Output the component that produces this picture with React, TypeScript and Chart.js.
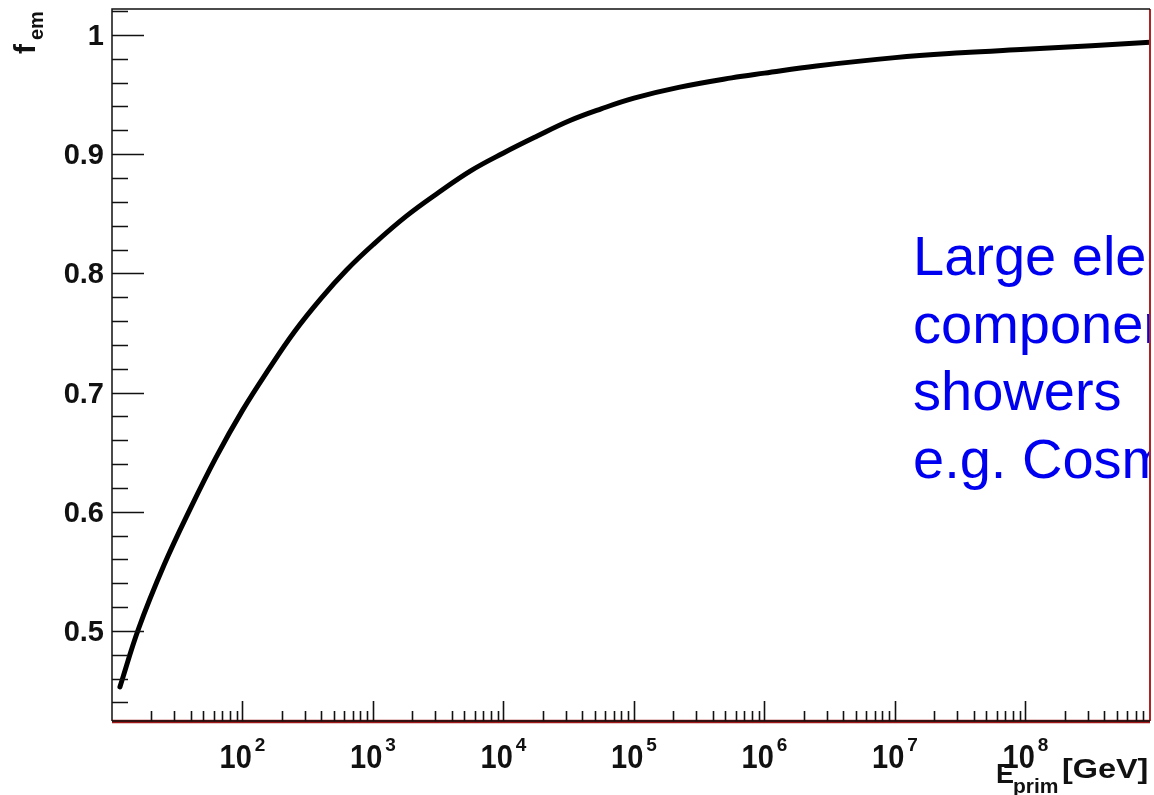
import { useEffect, useRef } from "react";
import { Chart, registerables } from "chart.js";

Chart.register(...registerables);

// Primary energy in GeV and the electromagnetic fraction of the shower
const energies = [
  11.5, 16, 25, 40, 63, 100, 160, 250, 400, 630, 1000, 1800, 3200, 5600, 1e4,
  1.8e4, 3.2e4, 5.6e4, 1e5, 2.2e5, 5.6e5, 1e6, 2.5e6, 1e7, 3.2e7, 1e8, 3.2e8, 9e8,
];
const emFraction = [
  0.453, 0.502, 0.555, 0.603, 0.646, 0.685, 0.72, 0.751, 0.779, 0.803, 0.824,
  0.848, 0.868, 0.886, 0.901, 0.915, 0.928, 0.938, 0.947, 0.956, 0.964, 0.968,
  0.974, 0.981, 0.985, 0.988, 0.991, 0.994,
];

const yMajorTicks = [0.5, 0.6, 0.7, 0.8, 0.9, 1];
const yTickLabels = ["0.5", "0.6", "0.7", "0.8", "0.9", "1"];
const xDecades = [2, 3, 4, 5, 6, 7, 8];
const noteLines = ["Large electromagnetic", "component in", "showers", "e.g. Cosmic rays"];

const X_MIN = 10;
const X_MAX = 9e8;
const Y_MIN = 0.4244;
const Y_MAX = 1.0218;

const FONT = '"Liberation Sans", Arial, sans-serif';

const frameAxes = {
  id: "frameAxes",
  afterDraw(chart: any) {
    const { ctx, chartArea } = chart;
    const xs = chart.scales.x;
    const ys = chart.scales.y;
    const { left, right, top, bottom } = chartArea;

    ctx.save();
    // frame
    ctx.lineCap = "butt";
    ctx.strokeStyle = "#b22222";
    ctx.lineWidth = 2;
    ctx.beginPath();
    ctx.moveTo(right, top);
    ctx.lineTo(right, bottom);
    ctx.stroke();
    ctx.lineWidth = 3.5;
    ctx.strokeStyle = "#a01818";
    ctx.beginPath();
    ctx.moveTo(left, bottom + 0.5);
    ctx.lineTo(right, bottom + 0.5);
    ctx.stroke();

    ctx.strokeStyle = "#111";
    ctx.lineWidth = 1.5;
    ctx.beginPath();
    ctx.moveTo(left, bottom);
    ctx.lineTo(right, bottom);
    ctx.moveTo(left, bottom);
    ctx.lineTo(left, top);
    ctx.lineTo(right, top);
    ctx.stroke();

    // y ticks
    ctx.lineWidth = 1.6;
    ctx.beginPath();
    for (let i = 22; i <= 51; i++) {
      const v = i * 0.02;
      if (v < Y_MIN || v > Y_MAX) continue;
      const major = i % 5 === 0;
      const py = Math.round(ys.getPixelForValue(v)) + 0.5;
      ctx.moveTo(left, py);
      ctx.lineTo(left + (major ? 32 : 16), py);
    }
    // x ticks
    for (let d = 1; d <= 8; d++) {
      for (let k = 1; k <= 9; k++) {
        const v = k * Math.pow(10, d);
        if (v <= X_MIN || v >= X_MAX) continue;
        const px = Math.round(xs.getPixelForValue(v)) + 0.5;
        ctx.moveTo(px, bottom);
        ctx.lineTo(px, bottom - (k === 1 ? 20 : 10));
      }
    }
    ctx.stroke();

    // y labels
    ctx.fillStyle = "#111";
    ctx.font = `bold 29px ${FONT}`;
    ctx.textAlign = "right";
    ctx.textBaseline = "middle";
    yMajorTicks.forEach((v, i) => {
      const py = ys.getPixelForValue(v);
      ctx.fillText(yTickLabels[i], 104, py + 2);
    });

    // x labels: 10^n
    ctx.textBaseline = "alphabetic";
    ctx.textAlign = "left";
    xDecades.forEach((d) => {
      const px = xs.getPixelForValue(Math.pow(10, d));
      ctx.font = `bold 29px ${FONT}`;
      const base = "10";
      const wb = ctx.measureText(base).width;
      ctx.font = `bold 19px ${FONT}`;
      const exp = String(d);
      const we = ctx.measureText(exp).width;
      const x0 = px - (wb + we + 3) / 2;
      ctx.save();
      ctx.translate(x0, 768);
      ctx.scale(1, 1.12);
      ctx.font = `bold 29px ${FONT}`;
      ctx.fillText(base, 0, 0);
      ctx.restore();
      ctx.font = `bold 19px ${FONT}`;
      ctx.fillText(exp, x0 + wb + 3, 751);
    });

    // x title
    ctx.font = `bold 27px ${FONT}`;
    ctx.fillText("E", 996, 783);
    ctx.font = `bold 21px ${FONT}`;
    ctx.fillText("prim", 1013, 793);
    ctx.font = `bold 27px ${FONT}`;
    ctx.save();
    ctx.translate(1062, 778);
    ctx.scale(1.2, 1);
    ctx.fillText("[GeV]", 0, 0);
    ctx.restore();

    // y title (rotated)
    ctx.save();
    ctx.translate(35, 54);
    ctx.rotate(-Math.PI / 2);
    ctx.font = `bold 30px ${FONT}`;
    ctx.fillText("f", 0, 0);
    ctx.font = `bold 20px ${FONT}`;
    ctx.fillText("em", 14, 8);
    ctx.restore();

    // annotation
    ctx.save();
    ctx.beginPath();
    ctx.rect(0, 0, right - 1, chart.height);
    ctx.clip();
    ctx.fillStyle = "#0000f0";
    ctx.font = `56px ${FONT}`;
    noteLines.forEach((line, i) => {
      ctx.fillText(line, 913, 275 + i * 67.5);
    });
    ctx.restore();

    ctx.restore();
  },
};

export default function App() {
  const canvasRef = useRef<HTMLCanvasElement | null>(null);

  useEffect(() => {
    document.body.style.margin = "0";
    const canvas = canvasRef.current;
    if (!canvas) return;
    const chart = new Chart(canvas, {
      type: "line",
      data: {
        datasets: [
          {
            data: energies.map((e, i) => ({ x: e, y: emFraction[i] })),
            borderColor: "#000",
            borderWidth: 5,
            pointRadius: 0,
            tension: 0.4,
            borderCapStyle: "round",
            borderJoinStyle: "round",
            fill: false,
          },
        ],
      },
      options: {
        animation: false,
        responsive: false,
        devicePixelRatio: 1,
        layout: { padding: { left: 112, top: 9, right: 4, bottom: 74 } },
        plugins: { legend: { display: false }, tooltip: { enabled: false } },
        scales: {
          x: { type: "logarithmic", min: X_MIN, max: X_MAX, display: false },
          y: { type: "linear", min: Y_MIN, max: Y_MAX, display: false },
        },
      },
      plugins: [frameAxes],
    });
    return () => chart.destroy();
  }, []);

  return (
    <div style={{ position: "absolute", left: 0, top: 0, background: "#fff" }}>
      <canvas ref={canvasRef} width={1154} height={795} style={{ display: "block" }} />
    </div>
  );
}
